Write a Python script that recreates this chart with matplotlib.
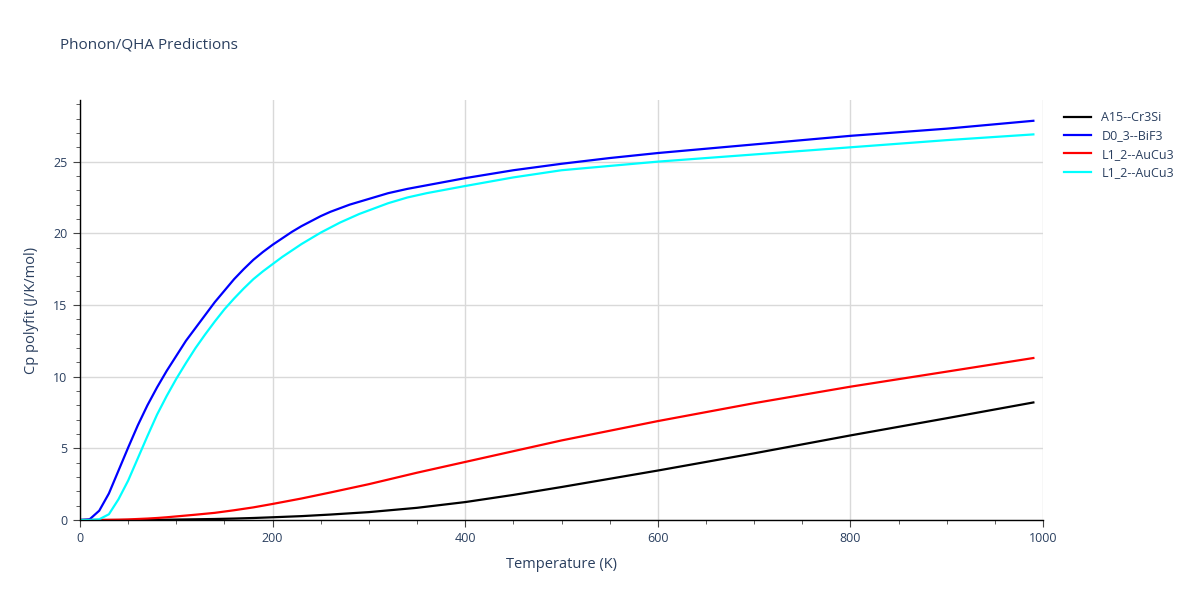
import numpy as np
import matplotlib
matplotlib.use('Agg')
import matplotlib.pyplot as plt
from matplotlib.ticker import MultipleLocator

plt.rcParams['font.family'] = ['Open Sans', 'DejaVu Sans']

# fine temperature grid (K) for the two steep curves
T_fine = [0, 10, 20, 30, 40, 50, 60, 70, 80, 90, 100, 110, 120, 130, 140, 150, 160, 170, 180, 190,
          200, 210, 220, 230, 240, 250, 260, 270, 280, 290, 300, 320, 340, 360, 380, 400,
          450, 500, 550, 600, 700, 800, 900, 990]
# coarse grid for the slow curves
T_coarse = [0, 10, 20, 30, 40, 50, 60, 70, 80, 90, 100, 120, 140, 160, 180, 200,
            230, 260, 300, 350, 400, 450, 500, 600, 700, 800, 900, 990]

# Cp polyfit values (J/K/mol)
cp_d03 = [0, 0.05, 0.65, 1.85, 3.45, 5.05, 6.6, 8.0, 9.25, 10.4, 11.45, 12.5, 13.4, 14.3, 15.2, 16.0,
          16.8, 17.5, 18.15, 18.7, 19.2, 19.65, 20.1, 20.5, 20.85, 21.2, 21.5, 21.75, 22.0,
          22.2, 22.4, 22.8, 23.1, 23.35, 23.6, 23.85, 24.4, 24.85, 25.25, 25.6, 26.2, 26.8,
          27.3, 27.85]
cp_l12b = [0, 0, 0.05, 0.4, 1.45, 2.75, 4.3, 5.85, 7.35, 8.65, 9.85, 10.95, 12.0, 12.95, 13.85, 14.7,
           15.45, 16.15, 16.8, 17.35, 17.85, 18.35, 18.8, 19.25, 19.65, 20.05, 20.4, 20.75, 21.05,
           21.35, 21.6, 22.1, 22.5, 22.8, 23.05, 23.3, 23.9, 24.4, 24.7, 25.0, 25.5, 26.0,
           26.5, 26.9]
cp_a15 = [0, 0, 0, 0, 0, 0, 0, 0.01, 0.01, 0.02, 0.03, 0.05, 0.07, 0.1, 0.14, 0.19,
          0.27, 0.38, 0.55, 0.85, 1.25, 1.75, 2.3, 3.45, 4.65, 5.9, 7.1, 8.2]
cp_l12a = [0, 0, 0, 0.01, 0.02, 0.04, 0.07, 0.1, 0.14, 0.19, 0.25, 0.37, 0.5, 0.68, 0.88, 1.12,
           1.5, 1.92, 2.5, 3.3, 4.05, 4.8, 5.55, 6.9, 8.15, 9.3, 10.35, 11.3]

names = ['A15--Cr3Si', 'D0_3--BiF3', 'L1_2--AuCu3', 'L1_2--AuCu3']
colors = ['black', 'blue', 'red', 'cyan']
xs = [T_coarse, T_fine, T_coarse, T_fine]
series = [cp_a15, cp_d03, cp_l12a, cp_l12b]

txt = '#2a3f5f'

fig = plt.figure(figsize=(12, 6), dpi=100)
ax = fig.add_axes([80/1200, 80/600, 963/1200, 420/600])

for x, y, c, n in zip(xs, series, colors, names):
    ax.plot(x, y, color=c, lw=1.6, label=n)

ax.set_xlim(0, 1000)
ax.set_ylim(0, 29.3)
ax.xaxis.set_major_locator(MultipleLocator(200))
ax.xaxis.set_minor_locator(MultipleLocator(50))
ax.yaxis.set_major_locator(MultipleLocator(5))
ax.yaxis.set_minor_locator(MultipleLocator(1))
ax.grid(True, which='major', color='#d9d9d9', lw=1)
ax.set_axisbelow(True)

for s in ['top', 'right']:
    ax.spines[s].set_visible(False)
for s in ['left', 'bottom']:
    ax.spines[s].set_color('black')
    ax.spines[s].set_linewidth(1)

ax.tick_params(which='major', length=5, color='#444', labelsize=9, labelcolor=txt, pad=4)
ax.tick_params(which='minor', length=3, color='#444')

ax.set_xlabel('Temperature (K)', fontsize=10.5, color=txt, labelpad=8)
ax.set_ylabel('Cp polyfit (J/K/mol)', fontsize=10.5, color=txt, labelpad=10)
fig.text(60/1200, 1 - 45/600, 'Phonon/QHA Predictions', fontsize=11, color=txt, va='center')

leg = ax.legend(loc='upper left', bbox_to_anchor=(1.01, 1.0), frameon=False,
                fontsize=9, handlelength=2.2, labelspacing=0.42)
for t in leg.get_texts():
    t.set_color(txt)

fig.savefig('out.png', dpi=100)
